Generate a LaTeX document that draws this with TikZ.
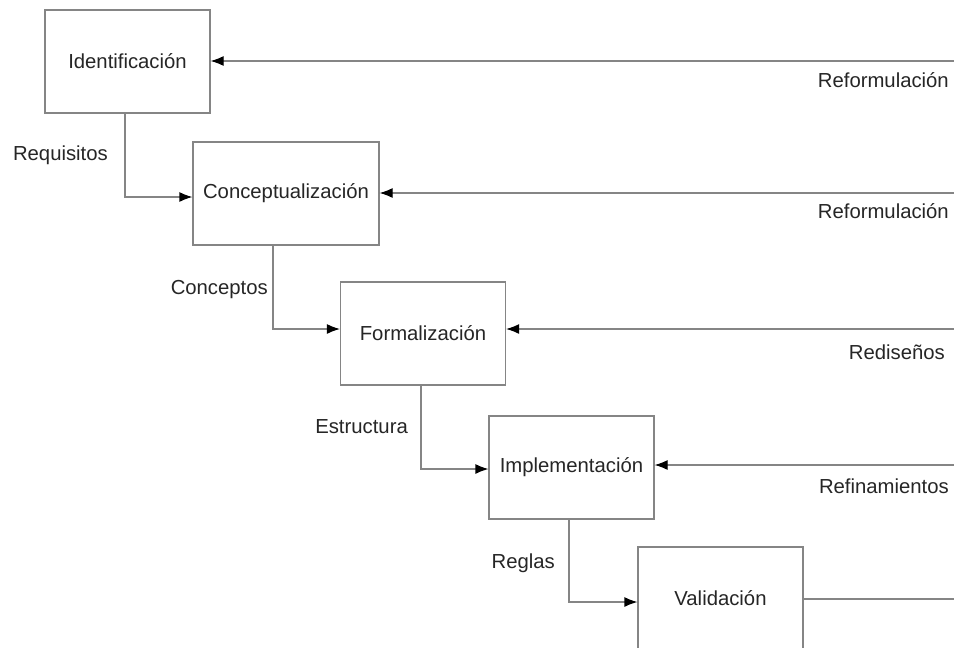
\documentclass[tikz,border=0pt]{standalone}
\usepackage{fontspec}
\setmainfont{Liberation Sans}
\usetikzlibrary{arrows.meta}
\definecolor{edge}{HTML}{858585}
\definecolor{ink}{HTML}{262626}
\begin{document}
\begin{tikzpicture}[x=1pt,y=-1pt,
  stage/.style={draw=edge, line width=1.2pt, fill=white, minimum width=165pt,
    minimum height=103pt, inner sep=0pt, font=\fontsize{20.3}{24}\selectfont, text=ink},
  flow/.style={draw=edge, line width=1.2pt, -{Latex[length=13pt,width=10pt,black]}},
  back/.style={draw=edge, line width=1.2pt},
  lbl/.style={font=\fontsize{20.3}{24}\selectfont, text=ink, inner sep=0pt}]
\clip (0,0) rectangle (954,648);
\fill[white] (0,0) rectangle (954,648);

% process stages
\node[stage] (ide) at (127.5,61.5) {Identificación};
\node[stage, minimum width=186pt] (con) at (286,193.5) {Conceptualización};
\node[stage] (for) at (423,333.5) {Formalización};
\node[stage] (imp) at (571.5,467.5) {Implementación};
\node[stage] (val) at (720.5,598.5) {Validación};

% free ends of the feedback lines at the right margin
\coordinate (r1) at (954,61);
\coordinate (r2) at (954,193);
\coordinate (r3) at (954,329);
\coordinate (r4) at (954,465);
\coordinate (r5) at (954,599);

% forward flow between stages
\draw[flow] ([xshift=-2.5pt]ide.south) |- ([yshift=-3.5pt]con.west);
\draw[flow] ([xshift=-13pt]con.south) |- ([yshift=4.5pt]for.west);
\draw[flow] ([xshift=-2pt]for.south) |- ([yshift=-1.5pt]imp.west);
\draw[flow] ([xshift=-2.5pt]imp.south) |- ([yshift=-3.5pt]val.west);

% feedback from the right
\draw[flow] (r1) -- (ide.east |- r1);
\draw[flow] (r2) -- (con.east |- r2);
\draw[flow] (r3) -- (for.east |- r3);
\draw[flow] (r4) -- (imp.east |- r4);
\draw[back] (val.east |- r5) -- (r5);

% labels
\node[lbl, anchor=east] (l1) at (108,155) {Requisitos};
\node[lbl, anchor=east] (l2) at (268,290) {Conceptos};
\node[lbl, anchor=east] (l3) at (408,427) {Estructura};
\node[lbl, anchor=east] (l4) at (555,563) {Reglas};
\node[lbl, anchor=east] (f1) at (949,80) {Reformulación};
\node[lbl, anchor=east] (f2) at (949,211) {Reformulación};
\node[lbl, anchor=east] (f3) at (945,352) {Rediseños};
\node[lbl, anchor=east] (f4) at (949,486) {Refinamientos};
\end{tikzpicture}
\end{document}
